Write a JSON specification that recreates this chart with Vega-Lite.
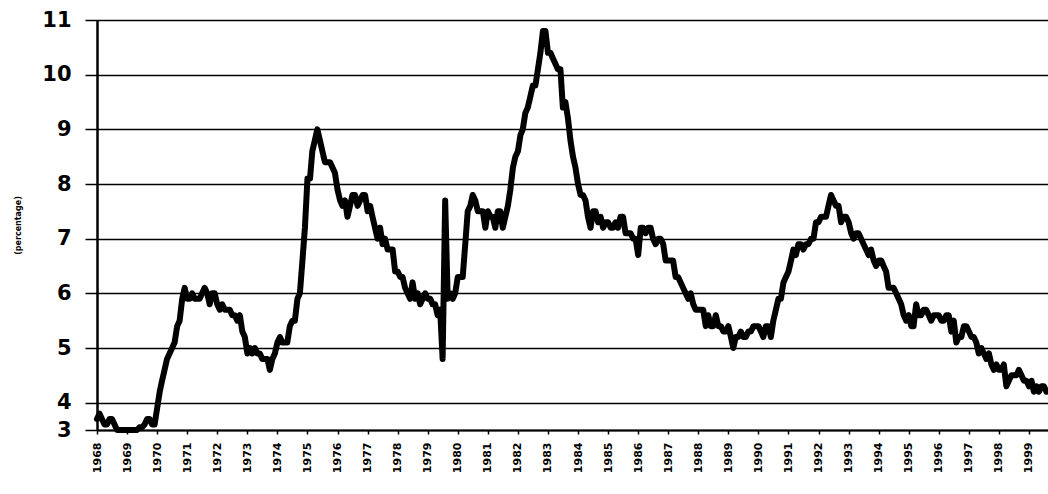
{
  "$schema": "https://vega.github.io/schema/vega-lite/v6.json",
  "autosize": "none",
  "width": 951,
  "height": 410,
  "padding": {"left": 97, "top": 20, "right": 0, "bottom": 64},
  "background": "white",
  "config": {"view": {"stroke": null}},
  "data": {"values": [
{"d":"1968-01","v":3.7},{"d":"1968-02","v":3.8},{"d":"1968-03","v":3.7},{"d":"1968-04","v":3.6},{"d":"1968-05","v":3.6},{"d":"1968-06","v":3.7},{"d":"1968-07","v":3.7},{"d":"1968-08","v":3.6},{"d":"1968-09","v":3.5},{"d":"1968-10","v":3.5},{"d":"1968-11","v":3.5},{"d":"1968-12","v":3.5},
{"d":"1969-01","v":3.5},{"d":"1969-02","v":3.5},{"d":"1969-03","v":3.5},{"d":"1969-04","v":3.5},{"d":"1969-05","v":3.5},{"d":"1969-06","v":3.55},{"d":"1969-07","v":3.55},{"d":"1969-08","v":3.6},{"d":"1969-09","v":3.7},{"d":"1969-10","v":3.7},{"d":"1969-11","v":3.6},{"d":"1969-12","v":3.6},
{"d":"1970-01","v":3.9},{"d":"1970-02","v":4.2},{"d":"1970-03","v":4.4},{"d":"1970-04","v":4.6},{"d":"1970-05","v":4.8},{"d":"1970-06","v":4.9},{"d":"1970-07","v":5.0},{"d":"1970-08","v":5.1},{"d":"1970-09","v":5.4},{"d":"1970-10","v":5.5},{"d":"1970-11","v":5.9},{"d":"1970-12","v":6.1},
{"d":"1971-01","v":5.9},{"d":"1971-02","v":5.9},{"d":"1971-03","v":6.0},{"d":"1971-04","v":5.9},{"d":"1971-05","v":5.9},{"d":"1971-06","v":5.9},{"d":"1971-07","v":6.0},{"d":"1971-08","v":6.1},{"d":"1971-09","v":6.0},{"d":"1971-10","v":5.8},{"d":"1971-11","v":6.0},{"d":"1971-12","v":6.0},
{"d":"1972-01","v":5.8},{"d":"1972-02","v":5.7},{"d":"1972-03","v":5.8},{"d":"1972-04","v":5.7},{"d":"1972-05","v":5.7},{"d":"1972-06","v":5.7},{"d":"1972-07","v":5.6},{"d":"1972-08","v":5.6},{"d":"1972-09","v":5.5},{"d":"1972-10","v":5.6},{"d":"1972-11","v":5.3},{"d":"1972-12","v":5.2},
{"d":"1973-01","v":4.9},{"d":"1973-02","v":5.0},{"d":"1973-03","v":4.9},{"d":"1973-04","v":5.0},{"d":"1973-05","v":4.9},{"d":"1973-06","v":4.9},{"d":"1973-07","v":4.8},{"d":"1973-08","v":4.8},{"d":"1973-09","v":4.8},{"d":"1973-10","v":4.6},{"d":"1973-11","v":4.8},{"d":"1973-12","v":4.9},
{"d":"1974-01","v":5.1},{"d":"1974-02","v":5.2},{"d":"1974-03","v":5.1},{"d":"1974-04","v":5.1},{"d":"1974-05","v":5.1},{"d":"1974-06","v":5.4},{"d":"1974-07","v":5.5},{"d":"1974-08","v":5.5},{"d":"1974-09","v":5.9},{"d":"1974-10","v":6.0},{"d":"1974-11","v":6.6},{"d":"1974-12","v":7.2},
{"d":"1975-01","v":8.1},{"d":"1975-02","v":8.1},{"d":"1975-03","v":8.6},{"d":"1975-04","v":8.8},{"d":"1975-05","v":9.0},{"d":"1975-06","v":8.8},{"d":"1975-07","v":8.6},{"d":"1975-08","v":8.4},{"d":"1975-09","v":8.4},{"d":"1975-10","v":8.4},{"d":"1975-11","v":8.3},{"d":"1975-12","v":8.2},
{"d":"1976-01","v":7.9},{"d":"1976-02","v":7.7},{"d":"1976-03","v":7.6},{"d":"1976-04","v":7.7},{"d":"1976-05","v":7.4},{"d":"1976-06","v":7.6},{"d":"1976-07","v":7.8},{"d":"1976-08","v":7.8},{"d":"1976-09","v":7.6},{"d":"1976-10","v":7.7},{"d":"1976-11","v":7.8},{"d":"1976-12","v":7.8},
{"d":"1977-01","v":7.5},{"d":"1977-02","v":7.6},{"d":"1977-03","v":7.4},{"d":"1977-04","v":7.2},{"d":"1977-05","v":7.0},{"d":"1977-06","v":7.2},{"d":"1977-07","v":6.9},{"d":"1977-08","v":7.0},{"d":"1977-09","v":6.8},{"d":"1977-10","v":6.8},{"d":"1977-11","v":6.8},{"d":"1977-12","v":6.4},
{"d":"1978-01","v":6.4},{"d":"1978-02","v":6.3},{"d":"1978-03","v":6.3},{"d":"1978-04","v":6.1},{"d":"1978-05","v":6.0},{"d":"1978-06","v":5.9},{"d":"1978-07","v":6.2},{"d":"1978-08","v":5.9},{"d":"1978-09","v":6.0},{"d":"1978-10","v":5.8},{"d":"1978-11","v":5.9},{"d":"1978-12","v":6.0},
{"d":"1979-01","v":5.9},{"d":"1979-02","v":5.9},{"d":"1979-03","v":5.8},{"d":"1979-04","v":5.8},{"d":"1979-05","v":5.6},{"d":"1979-06","v":5.7},{"d":"1979-07","v":4.8},{"d":"1979-08","v":7.7},{"d":"1979-09","v":5.9},{"d":"1979-10","v":6.0},{"d":"1979-11","v":5.9},{"d":"1979-12","v":6.0},
{"d":"1980-01","v":6.3},{"d":"1980-02","v":6.3},{"d":"1980-03","v":6.3},{"d":"1980-04","v":6.9},{"d":"1980-05","v":7.5},{"d":"1980-06","v":7.6},{"d":"1980-07","v":7.8},{"d":"1980-08","v":7.7},{"d":"1980-09","v":7.5},{"d":"1980-10","v":7.5},{"d":"1980-11","v":7.5},{"d":"1980-12","v":7.2},
{"d":"1981-01","v":7.5},{"d":"1981-02","v":7.4},{"d":"1981-03","v":7.4},{"d":"1981-04","v":7.2},{"d":"1981-05","v":7.5},{"d":"1981-06","v":7.5},{"d":"1981-07","v":7.2},{"d":"1981-08","v":7.4},{"d":"1981-09","v":7.6},{"d":"1981-10","v":7.9},{"d":"1981-11","v":8.3},{"d":"1981-12","v":8.5},
{"d":"1982-01","v":8.6},{"d":"1982-02","v":8.9},{"d":"1982-03","v":9.0},{"d":"1982-04","v":9.3},{"d":"1982-05","v":9.4},{"d":"1982-06","v":9.6},{"d":"1982-07","v":9.8},{"d":"1982-08","v":9.8},{"d":"1982-09","v":10.1},{"d":"1982-10","v":10.4},{"d":"1982-11","v":10.8},{"d":"1982-12","v":10.8},
{"d":"1983-01","v":10.4},{"d":"1983-02","v":10.4},{"d":"1983-03","v":10.3},{"d":"1983-04","v":10.2},{"d":"1983-05","v":10.1},{"d":"1983-06","v":10.1},{"d":"1983-07","v":9.4},{"d":"1983-08","v":9.5},{"d":"1983-09","v":9.2},{"d":"1983-10","v":8.8},{"d":"1983-11","v":8.5},{"d":"1983-12","v":8.3},
{"d":"1984-01","v":8.0},{"d":"1984-02","v":7.8},{"d":"1984-03","v":7.8},{"d":"1984-04","v":7.7},{"d":"1984-05","v":7.4},{"d":"1984-06","v":7.2},{"d":"1984-07","v":7.5},{"d":"1984-08","v":7.5},{"d":"1984-09","v":7.3},{"d":"1984-10","v":7.4},{"d":"1984-11","v":7.2},{"d":"1984-12","v":7.3},
{"d":"1985-01","v":7.3},{"d":"1985-02","v":7.2},{"d":"1985-03","v":7.2},{"d":"1985-04","v":7.3},{"d":"1985-05","v":7.2},{"d":"1985-06","v":7.4},{"d":"1985-07","v":7.4},{"d":"1985-08","v":7.1},{"d":"1985-09","v":7.1},{"d":"1985-10","v":7.1},{"d":"1985-11","v":7.0},{"d":"1985-12","v":7.0},
{"d":"1986-01","v":6.7},{"d":"1986-02","v":7.2},{"d":"1986-03","v":7.2},{"d":"1986-04","v":7.1},{"d":"1986-05","v":7.2},{"d":"1986-06","v":7.2},{"d":"1986-07","v":7.0},{"d":"1986-08","v":6.9},{"d":"1986-09","v":7.0},{"d":"1986-10","v":7.0},{"d":"1986-11","v":6.9},{"d":"1986-12","v":6.6},
{"d":"1987-01","v":6.6},{"d":"1987-02","v":6.6},{"d":"1987-03","v":6.6},{"d":"1987-04","v":6.3},{"d":"1987-05","v":6.3},{"d":"1987-06","v":6.2},{"d":"1987-07","v":6.1},{"d":"1987-08","v":6.0},{"d":"1987-09","v":5.9},{"d":"1987-10","v":6.0},{"d":"1987-11","v":5.8},{"d":"1987-12","v":5.7},
{"d":"1988-01","v":5.7},{"d":"1988-02","v":5.7},{"d":"1988-03","v":5.7},{"d":"1988-04","v":5.4},{"d":"1988-05","v":5.6},{"d":"1988-06","v":5.4},{"d":"1988-07","v":5.4},{"d":"1988-08","v":5.6},{"d":"1988-09","v":5.4},{"d":"1988-10","v":5.4},{"d":"1988-11","v":5.3},{"d":"1988-12","v":5.3},
{"d":"1989-01","v":5.4},{"d":"1989-02","v":5.2},{"d":"1989-03","v":5.0},{"d":"1989-04","v":5.2},{"d":"1989-05","v":5.2},{"d":"1989-06","v":5.3},{"d":"1989-07","v":5.2},{"d":"1989-08","v":5.2},{"d":"1989-09","v":5.3},{"d":"1989-10","v":5.3},{"d":"1989-11","v":5.4},{"d":"1989-12","v":5.4},
{"d":"1990-01","v":5.4},{"d":"1990-02","v":5.3},{"d":"1990-03","v":5.2},{"d":"1990-04","v":5.4},{"d":"1990-05","v":5.4},{"d":"1990-06","v":5.2},{"d":"1990-07","v":5.5},{"d":"1990-08","v":5.7},{"d":"1990-09","v":5.9},{"d":"1990-10","v":5.9},{"d":"1990-11","v":6.2},{"d":"1990-12","v":6.3},
{"d":"1991-01","v":6.4},{"d":"1991-02","v":6.6},{"d":"1991-03","v":6.8},{"d":"1991-04","v":6.7},{"d":"1991-05","v":6.9},{"d":"1991-06","v":6.9},{"d":"1991-07","v":6.8},{"d":"1991-08","v":6.9},{"d":"1991-09","v":6.9},{"d":"1991-10","v":7.0},{"d":"1991-11","v":7.0},{"d":"1991-12","v":7.3},
{"d":"1992-01","v":7.3},{"d":"1992-02","v":7.4},{"d":"1992-03","v":7.4},{"d":"1992-04","v":7.4},{"d":"1992-05","v":7.6},{"d":"1992-06","v":7.8},{"d":"1992-07","v":7.7},{"d":"1992-08","v":7.6},{"d":"1992-09","v":7.6},{"d":"1992-10","v":7.3},{"d":"1992-11","v":7.4},{"d":"1992-12","v":7.4},
{"d":"1993-01","v":7.3},{"d":"1993-02","v":7.1},{"d":"1993-03","v":7.0},{"d":"1993-04","v":7.1},{"d":"1993-05","v":7.1},{"d":"1993-06","v":7.0},{"d":"1993-07","v":6.9},{"d":"1993-08","v":6.8},{"d":"1993-09","v":6.7},{"d":"1993-10","v":6.8},{"d":"1993-11","v":6.6},{"d":"1993-12","v":6.5},
{"d":"1994-01","v":6.6},{"d":"1994-02","v":6.6},{"d":"1994-03","v":6.5},{"d":"1994-04","v":6.4},{"d":"1994-05","v":6.1},{"d":"1994-06","v":6.1},{"d":"1994-07","v":6.1},{"d":"1994-08","v":6.0},{"d":"1994-09","v":5.9},{"d":"1994-10","v":5.8},{"d":"1994-11","v":5.6},{"d":"1994-12","v":5.5},
{"d":"1995-01","v":5.6},{"d":"1995-02","v":5.4},{"d":"1995-03","v":5.4},{"d":"1995-04","v":5.8},{"d":"1995-05","v":5.6},{"d":"1995-06","v":5.6},{"d":"1995-07","v":5.7},{"d":"1995-08","v":5.7},{"d":"1995-09","v":5.6},{"d":"1995-10","v":5.5},{"d":"1995-11","v":5.6},{"d":"1995-12","v":5.6},
{"d":"1996-01","v":5.6},{"d":"1996-02","v":5.5},{"d":"1996-03","v":5.5},{"d":"1996-04","v":5.6},{"d":"1996-05","v":5.6},{"d":"1996-06","v":5.3},{"d":"1996-07","v":5.5},{"d":"1996-08","v":5.1},{"d":"1996-09","v":5.2},{"d":"1996-10","v":5.2},{"d":"1996-11","v":5.4},{"d":"1996-12","v":5.4},
{"d":"1997-01","v":5.3},{"d":"1997-02","v":5.2},{"d":"1997-03","v":5.2},{"d":"1997-04","v":5.1},{"d":"1997-05","v":4.9},{"d":"1997-06","v":5.0},{"d":"1997-07","v":4.9},{"d":"1997-08","v":4.8},{"d":"1997-09","v":4.9},{"d":"1997-10","v":4.7},{"d":"1997-11","v":4.6},{"d":"1997-12","v":4.7},
{"d":"1998-01","v":4.6},{"d":"1998-02","v":4.6},{"d":"1998-03","v":4.7},{"d":"1998-04","v":4.3},{"d":"1998-05","v":4.4},{"d":"1998-06","v":4.5},{"d":"1998-07","v":4.5},{"d":"1998-08","v":4.5},{"d":"1998-09","v":4.6},{"d":"1998-10","v":4.5},{"d":"1998-11","v":4.4},{"d":"1998-12","v":4.4},
{"d":"1999-01","v":4.3},{"d":"1999-02","v":4.4},{"d":"1999-03","v":4.2},{"d":"1999-04","v":4.3},{"d":"1999-05","v":4.2},{"d":"1999-06","v":4.3},{"d":"1999-07","v":4.3},{"d":"1999-08","v":4.2}
  ]},
  "mark": {"type": "line", "color": "black", "strokeWidth": 6, "strokeJoin": "round", "strokeCap": "round", "clip": false},
  "encoding": {
    "x": {
      "field": "d", "type": "temporal", "title": null,
      "scale": {"type": "utc", "domain": [{"year": 1968, "month": 1, "date": 1, "utc": true}, {"year": 1999, "month": 8, "date": 20, "utc": true}]},
      "axis": {
        "tickCount": {"interval": "year", "step": 1},
        "format": "%Y", "labelAngle": 270, "labelFont": "DejaVu Sans", "labelFontWeight": "bold", "labelFontSize": 11, "labelColor": "black",
        "labelPadding": 8, "labelOverlap": false, "labelFlush": false, "labelBound": false,
        "domainColor": "black", "domainWidth": 2, "tickColor": "black", "tickSize": 4, "tickWidth": 1.5, "grid": false
      }
    },
    "y": {
      "field": "v", "type": "quantitative", "title": "(percentage)",
      "scale": {"domain": [3.5, 11], "nice": false, "zero": false},
      "axis": {
        "values": [3.5, 4, 5, 6, 7, 8, 9, 10, 11],
        "labelExpr": "datum.value == 3.5 ? '3' : datum.label",
        "labelFont": "DejaVu Sans", "labelFontWeight": "bold", "labelFontSize": 21, "labelColor": "black", "labelPadding": 14,
        "tickSize": 12, "tickColor": "black", "tickWidth": 1.5,
        "domainColor": "black", "domainWidth": 2.5,
        "grid": true, "gridColor": "black", "gridWidth": 1.5, "gridOpacity": 1,
        "titleFont": "DejaVu Sans", "titleFontSize": 8, "titleFontWeight": "bold", "titleColor": "black", "titlePadding": 19
      }
    }
  }
}
